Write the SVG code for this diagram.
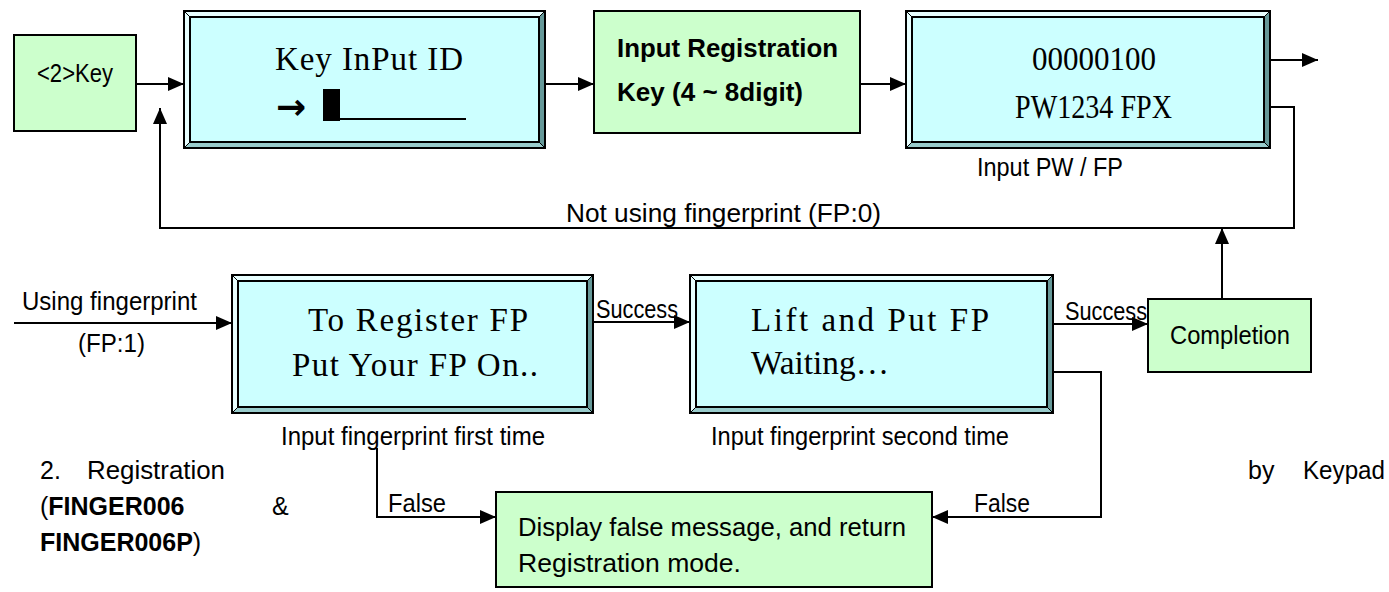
<svg xmlns="http://www.w3.org/2000/svg" width="1389" height="592" viewBox="0 0 1389 592">
<style>
.g{fill:#CCFFCC;stroke:#000;stroke-width:2}
.lt{fill:#E8FFFF}
.dk{fill:#669999}
.md{fill:#99CCCC}
.in{fill:#CCFFFF;stroke:#000;stroke-width:2}
.ob{fill:none;stroke:#000;stroke-width:2}
.dg{stroke:#000;stroke-width:1}
.c{fill:none;stroke:#000;stroke-width:2}
.s{font-family:"Liberation Sans",Arial,sans-serif;font-size:25px;fill:#000}
.b{font-family:"Liberation Sans",Arial,sans-serif;font-size:26px;font-weight:bold;fill:#000}
.m{font-family:"Liberation Serif","Times New Roman",serif;font-size:33px;fill:#000}
</style>
<defs>
<marker id="ah" markerUnits="userSpaceOnUse" markerWidth="16" markerHeight="14" refX="16" refY="7" orient="auto">
<path d="M0,0 L16,7 L0,14 z" fill="#000"/>
</marker>
</defs>

<g id="connectors">
<path class="c" d="M136,84 H184" marker-end="url(#ah)"/>
<path class="c" d="M545,84 H594" marker-end="url(#ah)"/>
<path class="c" d="M860,84 H906" marker-end="url(#ah)"/>
<path class="c" d="M1270,60 H1318" marker-end="url(#ah)"/>
<path class="c" d="M1270,107 H1294 V228 H160 V108" marker-end="url(#ah)"/>
<path class="c" d="M1222,299 V228" marker-end="url(#ah)"/>
<path class="c" d="M14,323 H232" marker-end="url(#ah)"/>
<path class="c" d="M593,322 H690" marker-end="url(#ah)"/>
<path class="c" d="M1053,324 H1148" marker-end="url(#ah)"/>
<path class="c" d="M377,448 V517 H496" marker-end="url(#ah)"/>
<path class="c" d="M1053,372 H1101 V517 H932" marker-end="url(#ah)"/>
<text class="s" x="566" y="222" textLength="315" lengthAdjust="spacingAndGlyphs">Not using fingerprint (FP:0)</text>
<text class="s" x="22" y="310" textLength="175" lengthAdjust="spacingAndGlyphs">Using fingerprint</text>
<text class="s" x="78" y="352" textLength="67" lengthAdjust="spacingAndGlyphs">(FP:1)</text>
<text class="s" x="596" y="318" textLength="82" lengthAdjust="spacingAndGlyphs">Success</text>
<text class="s" x="1065" y="320" textLength="82" lengthAdjust="spacingAndGlyphs">Success</text>
<text class="s" x="388" y="512" textLength="58" lengthAdjust="spacingAndGlyphs">False</text>
<text class="s" x="974" y="512" textLength="56" lengthAdjust="spacingAndGlyphs">False</text>
</g>

<g id="key2">
<rect class="g" x="14" y="35" width="122" height="96"/>
<text class="s" x="37" y="82" textLength="76" lengthAdjust="spacingAndGlyphs">&lt;2&gt;Key</text>
</g>

<g id="keyInput">
<polygon class="lt" points="184,11 545,11 539,17 190,17"/>
<polygon class="lt" points="184,11 190,17 190,142 184,148"/>
<polygon class="dk" points="545,11 545,148 539,142 539,17"/>
<polygon class="md" points="184,148 545,148 539,142 190,142"/>
<line class="dg" x1="184" y1="11" x2="190" y2="17"/>
<line class="dg" x1="545" y1="11" x2="539" y2="17"/>
<line class="dg" x1="184" y1="148" x2="190" y2="142"/>
<line class="dg" x1="545" y1="148" x2="539" y2="142"/>
<rect class="in" x="190" y="17" width="349" height="125"/>
<rect class="ob" x="184" y="11" width="361" height="137"/>
<text class="m" x="275" y="70" textLength="188" lengthAdjust="spacing">Key InPut ID</text>
<text x="276" y="119" font-family="DejaVu Sans, sans-serif" font-size="36" font-weight="bold">→</text>
<rect x="323" y="89" width="17" height="32" fill="#000"/>
<line x1="340" y1="119" x2="466" y2="119" stroke="#000" stroke-width="2"/>
</g>

<g id="inputReg">
<rect class="g" x="594" y="11" width="266" height="122"/>
<text class="b" x="617" y="57" textLength="221" lengthAdjust="spacingAndGlyphs">Input Registration</text>
<text class="b" x="617" y="101" textLength="186" lengthAdjust="spacingAndGlyphs">Key (4 ~ 8digit)</text>
</g>

<g id="pwfp">
<polygon class="lt" points="906,11 1270,11 1264,17 912,17"/>
<polygon class="lt" points="906,11 912,17 912,142 906,148"/>
<polygon class="dk" points="1270,11 1270,148 1264,142 1264,17"/>
<polygon class="md" points="906,148 1270,148 1264,142 912,142"/>
<line class="dg" x1="906" y1="11" x2="912" y2="17"/>
<line class="dg" x1="1270" y1="11" x2="1264" y2="17"/>
<line class="dg" x1="906" y1="148" x2="912" y2="142"/>
<line class="dg" x1="1270" y1="148" x2="1264" y2="142"/>
<rect class="in" x="912" y="17" width="352" height="125"/>
<rect class="ob" x="906" y="11" width="364" height="137"/>
<text class="m" x="1032" y="70" textLength="124" lengthAdjust="spacingAndGlyphs">00000100</text>
<text class="m" x="1015" y="118" textLength="157" lengthAdjust="spacingAndGlyphs">PW1234 FPX</text>
<text class="s" x="977" y="176" textLength="146" lengthAdjust="spacingAndGlyphs">Input PW / FP</text>
</g>

<g id="register">
<polygon class="lt" points="232,275 593,275 587,281 238,281"/>
<polygon class="lt" points="232,275 238,281 238,407 232,413"/>
<polygon class="dk" points="593,275 593,413 587,407 587,281"/>
<polygon class="md" points="232,413 593,413 587,407 238,407"/>
<line class="dg" x1="232" y1="275" x2="238" y2="281"/>
<line class="dg" x1="593" y1="275" x2="587" y2="281"/>
<line class="dg" x1="232" y1="413" x2="238" y2="407"/>
<line class="dg" x1="593" y1="413" x2="587" y2="407"/>
<rect class="in" x="238" y="281" width="349" height="126"/>
<rect class="ob" x="232" y="275" width="361" height="138"/>
<text class="m" x="308" y="331" textLength="220" lengthAdjust="spacing">To Register FP</text>
<text class="m" x="292" y="376" textLength="246" lengthAdjust="spacing">Put Your FP On..</text>
<text class="s" x="281" y="445" textLength="264" lengthAdjust="spacingAndGlyphs">Input fingerprint first time</text>
</g>

<g id="lift">
<polygon class="lt" points="690,275 1053,275 1047,281 696,281"/>
<polygon class="lt" points="690,275 696,281 696,407 690,413"/>
<polygon class="dk" points="1053,275 1053,413 1047,407 1047,281"/>
<polygon class="md" points="690,413 1053,413 1047,407 696,407"/>
<line class="dg" x1="690" y1="275" x2="696" y2="281"/>
<line class="dg" x1="1053" y1="275" x2="1047" y2="281"/>
<line class="dg" x1="690" y1="413" x2="696" y2="407"/>
<line class="dg" x1="1053" y1="413" x2="1047" y2="407"/>
<rect class="in" x="696" y="281" width="351" height="126"/>
<rect class="ob" x="690" y="275" width="363" height="138"/>
<text class="m" x="751" y="331" textLength="238" lengthAdjust="spacing">Lift and Put FP</text>
<text class="m" x="751" y="374" textLength="138" lengthAdjust="spacingAndGlyphs">Waiting…</text>
<text class="s" x="711" y="445" textLength="298" lengthAdjust="spacingAndGlyphs">Input fingerprint second time</text>
</g>

<g id="completion">
<rect class="g" x="1148" y="299" width="163" height="73"/>
<text class="s" x="1170" y="344" textLength="120" lengthAdjust="spacingAndGlyphs">Completion</text>
</g>

<g id="falseMsg">
<rect class="g" x="496" y="492" width="436" height="95"/>
<text class="s" x="518" y="536" textLength="388" lengthAdjust="spacingAndGlyphs">Display false message, and return</text>
<text class="s" x="518" y="572" textLength="223" lengthAdjust="spacingAndGlyphs">Registration mode.</text>
</g>

<g id="caption">
<text class="s" x="40" y="479">2.</text>
<text class="s" x="87" y="479" textLength="138" lengthAdjust="spacingAndGlyphs">Registration</text>
<text class="s" x="1248" y="479">by</text>
<text class="s" x="1303" y="479" textLength="82" lengthAdjust="spacingAndGlyphs">Keypad</text>
<text class="s" x="40" y="515">(<tspan font-weight="bold">FINGER006</tspan></text>
<text class="s" x="272" y="515">&amp;</text>
<text class="s" x="40" y="551"><tspan font-weight="bold">FINGER006P</tspan>)</text>
</g>
</svg>
